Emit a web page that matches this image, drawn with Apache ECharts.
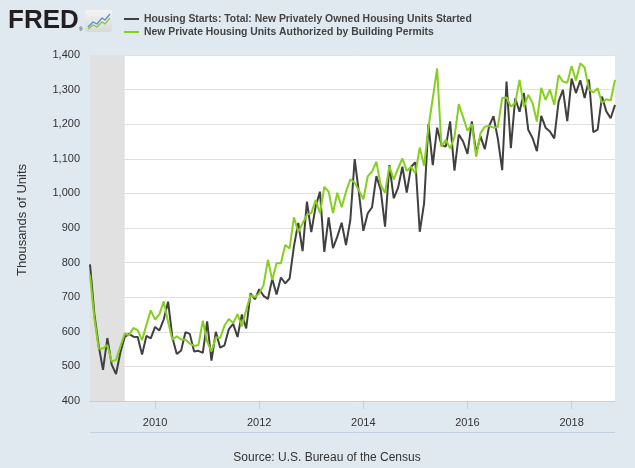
<!DOCTYPE html>
<html>
<head>
<meta charset="utf-8">
<script src="https://cdn.jsdelivr.net/npm/echarts@6/dist/echarts.min.js"></script>
<style>
html, body { margin: 0; padding: 0; background: #e1e9f0; }
#chart { width: 635px; height: 468px; }
</style>
</head>
<body>
<div id="chart"></div>
<script>
// monthly, Oct 2008 .. Nov 2018, thousands of units (SAAR)
const startYear = 2008, startMonth = 10;

const starts = [
  795, 652, 560,
  490, 582, 505, 478, 540, 585, 594, 586, 585, 534, 588, 581,
  614, 604, 636, 687, 583, 536, 546, 599, 594, 543, 545, 539,
  630, 517, 600, 554, 561, 608, 623, 585, 650, 610, 711, 694,
  723, 704, 695, 753, 708, 757, 740, 754, 847, 915, 833, 976,
  888, 962, 1005, 831, 931, 842, 875, 915, 851, 923, 1099, 1000,
  892, 942, 960, 1050, 1010, 904, 1082, 986, 1016, 1077, 1002, 1077,
  1090, 889, 971, 1200, 1082, 1190, 1140, 1135, 1208, 1066, 1170, 1150,
  1114, 1208, 1117, 1165, 1128, 1195, 1223, 1158, 1067, 1323, 1131, 1275,
  1236, 1290, 1184, 1160, 1122, 1224, 1190, 1179, 1159, 1265, 1299, 1209,
  1332, 1290, 1327, 1276, 1329, 1177, 1184, 1280, 1237, 1217, 1256
];

const permits = [
  765, 640, 552,
  552, 562, 514, 519, 557, 595, 590, 611, 605, 576, 620, 662,
  635, 651, 688, 628, 577, 587, 578, 578, 566, 559, 562, 632,
  572, 543, 584, 582, 618, 637, 625, 651, 616, 663, 706, 700,
  711, 735, 808, 750, 798, 798, 851, 841, 931, 889, 913, 938,
  943, 981, 943, 1019, 1005, 943, 1002, 960, 1005, 1041, 1031, 1008,
  983, 1049, 1063, 1092, 1024, 1002, 1079, 1040, 1072, 1101, 1065, 1077,
  1058, 1133, 1080, 1190, 1275, 1361, 1135, 1155, 1130, 1162, 1258, 1220,
  1181, 1200, 1106, 1174, 1193, 1195, 1190, 1192, 1276, 1277, 1251, 1261,
  1328, 1250, 1285, 1261, 1208, 1305, 1270, 1300, 1256, 1342, 1323, 1320,
  1368, 1326, 1376, 1364, 1300, 1292, 1304, 1261, 1272, 1268, 1328
];

const seriesNames = [
  'Housing Starts: Total: New Privately Owned Housing Units Started',
  'New Private Housing Units Authorized by Building Permits'
];
const yTitle = 'Thousands of Units';
const recession = ['2008-10', '2009-06'];

// month labels 'YYYY-MM'
const months = [];
for (let k = 0; k < starts.length; k++) {
  const n = startMonth - 1 + k;
  months.push((startYear + Math.floor(n / 12)) + '-' + String(n % 12 + 1).padStart(2, '0'));
}
const everyOtherJan = (i, v) => v.endsWith('-01') && (+v.slice(0, 4)) % 2 === 0;

const chart = echarts.init(document.getElementById('chart'));
const G = { left: 90, right: 20, top: 55, bottom: 67 };

chart.setOption({
  backgroundColor: '#e1e9f0',
  animation: false,
  textStyle: { fontFamily: 'Liberation Sans' },
  grid: {
    left: G.left, right: G.right, top: G.top, bottom: G.bottom,
    show: true, backgroundColor: '#ffffff', borderWidth: 0
  },
  legend: {
    orient: 'vertical',
    left: 124, top: 13,
    padding: 0,
    itemWidth: 15, itemHeight: 2, itemGap: 1,
    icon: 'rect',
    selectedMode: false,
    textStyle: { fontFamily: 'Liberation Sans', fontWeight: 'bold', fontSize: 10.4, color: '#444', lineHeight: 12 },
    data: seriesNames
  },
  xAxis: {
    type: 'category',
    data: months,
    boundaryGap: false,
    axisLine: { lineStyle: { color: '#c0d0e0' } },
    axisTick: { interval: everyOtherJan, length: 8, lineStyle: { color: '#c0d0e0' } },
    axisLabel: {
      interval: everyOtherJan,
      formatter: v => v.slice(0, 4),
      color: '#333', fontSize: 11, margin: 16
    },
    splitLine: { show: false }
  },
  yAxis: {
    type: 'value',
    min: 400, max: 1400, interval: 100,
    axisLine: { show: false },
    axisTick: { show: false },
    axisLabel: { color: '#333', fontSize: 11, margin: 10, formatter: v => v.toLocaleString('en-US') },
    splitLine: { lineStyle: { color: '#e0e0e0' } }
  },
  series: [
    {
      name: seriesNames[0],
      type: 'line',
      data: starts,
      symbol: 'none',
      color: '#404040',
      lineStyle: { width: 2 },
      markArea: {
        silent: true,
        itemStyle: { color: '#e1e1e1' },
        data: [[{ xAxis: recession[0] }, { xAxis: recession[1] }]]
      },
      z: 2
    },
    {
      name: seriesNames[1],
      type: 'line',
      data: permits,
      symbol: 'none',
      color: '#86cf1e',
      lineStyle: { width: 2 },
      z: 3
    }
  ],
  graphic: [
    {
      type: 'text', left: 8, top: 8,
      style: { text: 'FRED', font: 'bold 26px "Liberation Sans"', fill: '#231f20' }
    },
    {
      type: 'text', left: 79, top: 27,
      style: { text: '®', font: '5px "Liberation Sans"', fill: '#231f20' }
    },
    {
      type: 'group', left: 85, top: 10,
      children: [
        {
          type: 'rect', shape: { x: 0, y: 0, width: 27, height: 22, r: 2 },
          style: {
            fill: new echarts.graphic.LinearGradient(0, 0, 0, 1, [
              { offset: 0, color: '#f4f4f4' }, { offset: 1, color: '#d8d8d8' }
            ])
          }
        },
        {
          type: 'polyline',
          shape: { points: [[3, 17], [8, 12], [12, 14], [17, 8], [20, 10], [25, 4]] },
          style: { stroke: '#4a90c8', lineWidth: 1.2, fill: null }
        },
        {
          type: 'polyline',
          shape: { points: [[3, 19], [8, 15], [12, 17], [17, 12], [20, 14], [25, 8]] },
          style: { stroke: '#8cc04b', lineWidth: 1.2, fill: null }
        }
      ]
    },
    // y axis title, rotated
    {
      type: 'text', x: 22, y: 220, rotation: Math.PI / 2,
      style: { text: yTitle, font: '13px "Liberation Sans"', fill: '#333', align: 'center', verticalAlign: 'middle' }
    },
    {
      type: 'line',
      shape: { x1: G.left, y1: 432.5, x2: 635 - G.right, y2: 432.5 },
      style: { stroke: '#c0d0e0', lineWidth: 1 }
    },
    {
      type: 'text', x: 327, y: 452,
      style: { text: 'Source: U.S. Bureau of the Census', font: '12px "Liberation Sans"', fill: '#333', align: 'center' }
    }
  ]
});
</script>
</body>
</html>
